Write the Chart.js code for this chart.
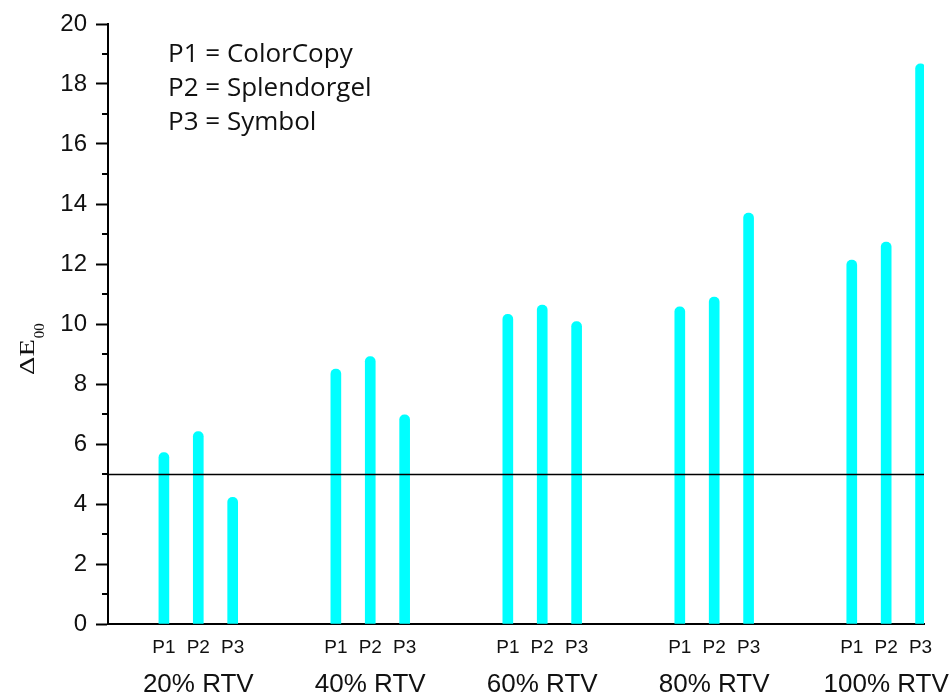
<!DOCTYPE html>
<html>
<head>
<meta charset="utf-8">
<script src="https://cdn.jsdelivr.net/npm/chart.js@4.4.1/dist/chart.umd.min.js"></script>
<style>
  html, body { margin: 0; padding: 0; background: #fff; }
  #wrap { width: 952px; height: 696px; }
</style>
</head>
<body>
<div id="wrap"><canvas id="chart"></canvas></div>
<script>
// ── Data ───────────────────────────────────────────────────────────────────
const rtvLevels = [20, 40, 60, 80, 100];
const rtvLabels = ["20% RTV", "40% RTV", "60% RTV", "80% RTV", "100% RTV"];
const products = ["P1", "P2", "P3"];
const productNames = ["ColorCopy", "Splendorgel", "Symbol"];
const deltaP1 = [5.71, 8.5, 10.32, 10.57, 12.13];
const deltaP2 = [6.41, 8.91, 10.63, 10.9, 12.73];
const deltaP3 = [4.22, 6.97, 10.08, 13.7, 18.67];
const threshold = 5;
const yTicks = [0, 2, 4, 6, 8, 10, 12, 14, 16, 18, 20];
const yMinorTicks = [1, 3, 5, 7, 9, 11, 13, 15, 17, 19];

// ── Layout constants (not data) ───────────────────────────────────────────
const productOffset = [-4, 0, 4];   // spread of P1/P2/P3 around each RTV level
const X_MIN = 9.5, X_MAX = 104.4;
const CYAN = "#00ffff";
const SANS = "'Liberation Sans', Arial, sans-serif";
const SERIF = "'Liberation Serif', 'Times New Roman', serif";

const series = [deltaP1, deltaP2, deltaP3];
const barPositions = [];
rtvLevels.forEach(r => productOffset.forEach(o => barPositions.push(r + o)));

const datasets = series.map((vals, p) => ({
  label: products[p],
  data: vals.map((v, i) => ({ x: rtvLevels[i] + productOffset[p], y: v })),
  backgroundColor: CYAN,
  borderWidth: 0,
  barThickness: 10,
  borderRadius: 5,
  borderSkipped: "bottom",
  grouped: false,
}));

// labels at the ends must not push the plot area inwards
const noSidePad = s => { s.paddingLeft = 0; s.paddingRight = 0; };

// ── Extras: threshold line, minor ticks, key text, y title ────────────────
const decor = {
  id: "decor",
  afterDatasetsDraw(chart) {
    const { ctx, chartArea, scales } = chart;
    const y = scales.y;
    ctx.save();
    ctx.strokeStyle = "#000";
    ctx.lineWidth = 1.5;
    const ty = Math.round(y.getPixelForValue(threshold)) + 0.5;
    ctx.beginPath();
    ctx.moveTo(chartArea.left, ty);
    ctx.lineTo(chartArea.right, ty);
    ctx.stroke();

    ctx.lineWidth = 2;
    yMinorTicks.forEach(v => {
      const py = y.getPixelForValue(v);
      ctx.beginPath();
      ctx.moveTo(chartArea.left - 6, py);
      ctx.lineTo(chartArea.left, py);
      ctx.stroke();
    });
    ctx.restore();
  },
  afterDraw(chart) {
    const { ctx } = chart;
    ctx.save();
    ctx.fillStyle = "#111";
    ctx.font = "26px 'Open Sans', sans-serif";
    ctx.textBaseline = "alphabetic";
    products.forEach((p, i) => {
      ctx.fillText(p + " = " + productNames[i], 168, 62 + i * 34);
    });
    ctx.restore();

    // ΔE00 axis title, rotated
    ctx.save();
    ctx.fillStyle = "#111";
    ctx.translate(34, 375);
    ctx.rotate(-Math.PI / 2);
    ctx.save();
    ctx.scale(1.43, 1);
    ctx.font = "20px " + SERIF;
    const wMain = ctx.measureText("ΔE").width * 1.43;
    ctx.fillText("ΔE", 0, 0);
    ctx.restore();
    ctx.font = "15px " + SERIF;
    ctx.fillText("00", wMain + 1, 10);
    ctx.restore();
  },
};

new Chart(document.getElementById("chart"), {
  type: "bar",
  data: { datasets },
  options: {
    responsive: true,
    maintainAspectRatio: false,
    animation: false,
    layout: { padding: { top: 24, right: 28, left: 0, bottom: 0 } },
    plugins: {
      legend: { display: false },
      tooltip: { enabled: false },
    },
    scales: {
      x: {
        type: "linear",
        min: X_MIN,
        max: X_MAX,
        offset: false,
        grid: { display: false, drawTicks: false },
        border: { display: true, color: "#000", width: 2 },
        afterBuildTicks: s => { s.ticks = barPositions.map(v => ({ value: v })); },
        ticks: {
          autoSkip: false,
          maxRotation: 0,
          padding: 12,
          color: "#111",
          font: { family: SANS, size: 19 },
          callback: (v, i) => products[i % products.length],
        },
        afterFit: s => { s.height = 36; noSidePad(s); },
      },
      x2: {
        type: "linear",
        position: "bottom",
        weight: 1,
        min: X_MIN,
        max: X_MAX,
        offset: false,
        grid: { display: false, drawTicks: false },
        border: { display: false },
        afterBuildTicks: s => { s.ticks = rtvLevels.map(v => ({ value: v })); },
        ticks: {
          autoSkip: false,
          maxRotation: 0,
          padding: 9,
          color: "#111",
          font: { family: SANS, size: 26 },
          callback: (v, i) => rtvLabels[i],
        },
        afterFit: s => { s.height = 36; noSidePad(s); },
      },
      y: {
        min: 0,
        max: 20,
        grid: {
          display: true,
          drawOnChartArea: false,
          drawTicks: true,
          tickLength: 12,
          tickWidth: 2,
          tickColor: "#000",
        },
        border: { display: true, color: "#000", width: 2 },
        afterBuildTicks: s => { s.ticks = yTicks.map(v => ({ value: v })); },
        ticks: {
          padding: 9,
          color: "#111",
          font: { family: SANS, size: 24 },
        },
        afterFit: s => { s.width = 108; },
      },
    },
  },
  plugins: [decor],
});
</script>
</body>
</html>
